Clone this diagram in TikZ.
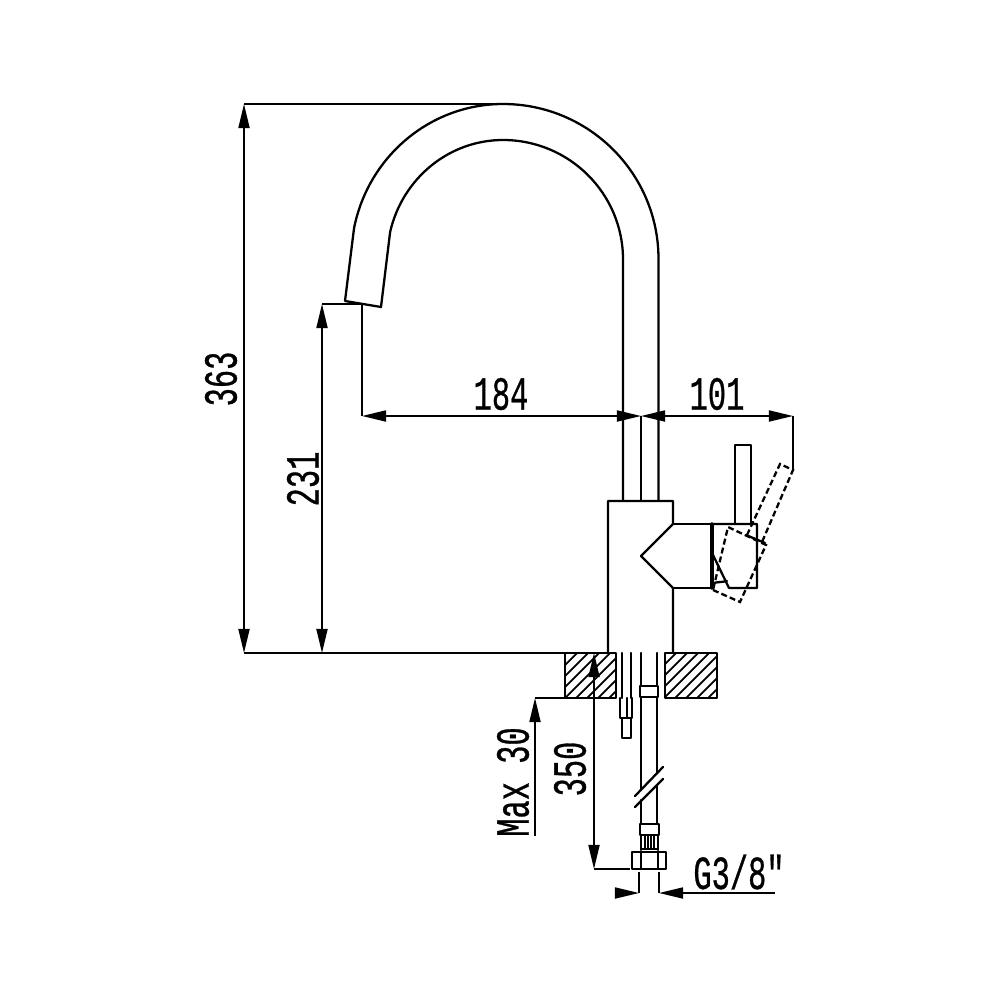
\documentclass[tikz,border=0pt]{standalone}
\usepackage{fontspec}
\usepackage{tikz}
\usetikzlibrary{arrows.meta}
\newfontfamily\dimfont[FakeStretch=0.64,FakeBold=0.6]{Liberation Mono}

\tikzset{
  part/.style={line width=0.65pt, line join=round, line cap=round},
  dim/.style={line width=0.5pt, {Triangle[length=0.24cm,width=0.11cm]}-{Triangle[length=0.24cm,width=0.11cm]}},
  dimhead/.style={line width=0.5pt, -{Triangle[length=0.24cm,width=0.11cm]}},
  ext/.style={line width=0.5pt},
  ghost/.style={line width=0.65pt, dash pattern=on 1.7pt off 0.9pt},
  hatch/.style={line width=0.5pt},
  dimtext/.style={font=\dimfont\fontsize{13.5}{14}\selectfont, inner sep=0pt}
}

\begin{document}
\begin{tikzpicture}[x=0.01cm, y=-0.01cm]
        \useasboundingbox (0,0) rectangle (1000,1000);

        % spout
        \draw[part] (623,500)--(623,259.5) arc[start angle=0, end angle=-90, x radius=120, y radius=119.5]
          arc[start angle=-90, end angle=-166.7, x radius=116, y radius=119.5] coordinate (I);
        \draw[part] (658.5,500)--(658.5,259) arc[start angle=0, end angle=-90, x radius=155.5, y radius=155]
          arc[start angle=-90, end angle=-168.5, x radius=152, y radius=155] coordinate (O);
        \draw[part] (I)--(381,307)--(345,301)--(O);

        % body and knob
        \draw[part] (608,653)--(608,501)--(673,501)--(673,524)--(641,556)--(673,588)--(673,653);
        \draw[part] (673,524)--(712,524);
        \draw[part] (673,588)--(712,588);
        \draw[part, line width=1pt] (712,524)--(712,588);
        \draw[part] (714,524)--(757,524)--(757,588)--(729,588)--(713,555);
        \draw[part] (713,583) .. controls (718,582) and (723,582) .. (727,581);
        \draw[part] (735,524)--(735,445)--(751,445)--(751,524);

        % swung lever
        \draw[ghost] (713,590)--(740,602)--(766,545)--(728,527)--cycle;
        \draw[ghost] (747,535)--(780,464)--(793,470)--(762,542);
        \draw[part] (746,535)--(765,543);

        % deck
        \begin{scope}
        \clip (565,653) rectangle (616,698) (665,653) rectangle (717,698);
        \foreach \i in {-5,...,15}
        \draw[hatch] (565+\i*11,698)--(610+\i*11,653);
        \end{scope}
        \draw[part] (565,653) rectangle (616,698);
        \draw[part] (665,653) rectangle (717,698);
        \foreach \i in {622,631,641,657}
        \draw[part] (\i,653)--(\i,698);
        \draw[part, fill=white] (640,686) rectangle (658,697);

        % lower parts
        \draw[part] (620,698)--(620,718)--(632,718)--(632,698);
        \draw[part] (627,698)--(627,718);
        \draw[part] (622,718)--(622,738)--(631,738)--(631,718);

        % hose
        \draw[part] (641,698)--(641,790);
        \draw[part] (657,698)--(657,773);
        \draw[part] (641,800)--(641,824);
        \draw[part] (657,785)--(657,824);
        \draw[part] (635,796)--(663,767);
        \draw[part] (635,807)--(663,779);

        % fitting
        \draw[part] (640,824) rectangle (659,835);
        \draw[part] (641,835)--(641,850);
        \draw[part] (658,835)--(658,850);
        \foreach \i in {645,648,651,654}
        \draw[part] (\i,836)--(\i,848);
        \draw[part] (641,849)--(658,849);
        \draw[part] (632,852) rectangle (666,869);
        \foreach \i in {641,658}
        \draw[part] (\i,852)--(\i,869);

        % dimension coordinates
        \coordinate (top) at (244,104);
        \coordinate (base) at (244,653);
        \coordinate (spoutend) at (322,304);
        \coordinate (spoutbase) at (322,653);
        \coordinate (reach) at (362,416);
        \coordinate (axis) at (641,416);
        \coordinate (leverend) at (793,416);
        \coordinate (hosetop) at (594,653);
        \coordinate (hoseend) at (594,869);
        \coordinate (deckunder) at (535,698);
        \coordinate (deckend) at (535,836);
        \coordinate (nutleft) at (639,893);
        \coordinate (nutright) at (659,893);
        \coordinate (nutfree) at (615,893);
        \coordinate (threadfree) at (775,893);

        % extension lines
        \draw[ext] (top)--(505,104);
        \draw[ext] (base)--(565,653);
        \draw[ext] (spoutend)--(362,304);
        \draw[ext] (362,305)--(reach);
        \draw[ext] (axis)--(641,500);
        \draw[ext] (leverend)--(793,470);
        \draw[ext] (deckunder)--(565,698);
        \draw[ext] (hoseend)--(630,869);
        \draw[ext] (639,872)--(nutleft);
        \draw[ext] (659,872)--(nutright);

        % dimension lines
        \draw[dim] (top)--(base);
        \draw[dim] (spoutend)--(spoutbase);
        \draw[dim] (reach)--(axis);
        \draw[dim] (axis)--(leverend);
        \draw[dim] (hosetop)--(hoseend);
        \draw[dimhead] (deckend)--(deckunder);
        \draw[dimhead] (nutfree)--(nutleft);
        \draw[dimhead] (threadfree)--(nutright);

        % labels
        \node[dimtext, rotate=90] (t363) at (221,379) {363};
        \node[dimtext, rotate=90] (t231) at (303,479) {231};
        \node[dimtext] (t184) at (501,394) {184};
        \node[dimtext] (t101) at (717,394) {101};
        \node[dimtext, rotate=90] (t350) at (570,769) {350};
        \node[dimtext, rotate=90] (tmax) at (513,782) {Max 30};
        \node[dimtext] (tg) at (739,872) {G3/8"};
\end{tikzpicture}
\end{document}
